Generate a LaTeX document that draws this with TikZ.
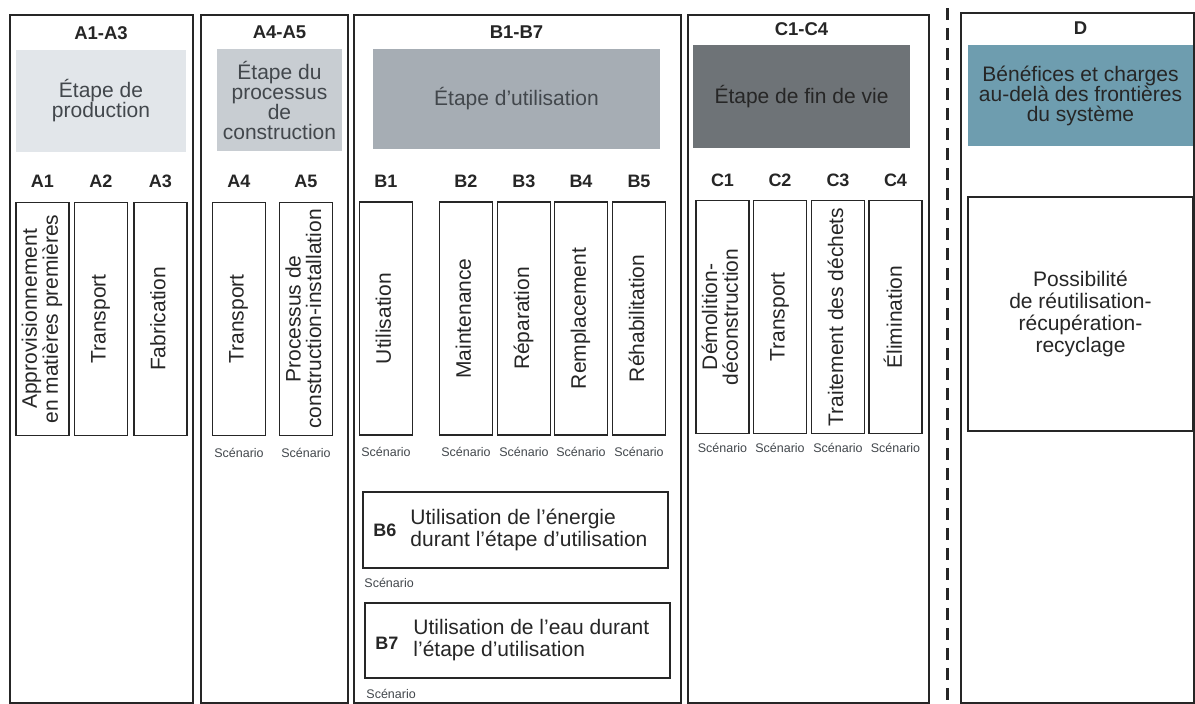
\documentclass[tikz,border=0pt]{standalone}
\usepackage{fontspec}
\setmainfont{Liberation Sans}
\usepackage{graphicx}
\usetikzlibrary{positioning}

\definecolor{stageA}{HTML}{E2E6EA}
\definecolor{stageAB}{HTML}{C8CDD2}
\definecolor{stageB}{HTML}{A6ADB4}
\definecolor{stageC}{HTML}{6E7377}
\definecolor{stageD}{HTML}{6E9DAF}
\definecolor{ink}{HTML}{262626}
\definecolor{inkgrey}{HTML}{42474C}

\newcommand{\vtext}[1]{\rotatebox{90}{\begin{tabular}{@{}c@{}}#1\end{tabular}}}

\begin{document}
\begin{tikzpicture}[x=1pt, y=-1pt, line join=miter,
  frame/.style={draw=ink, line width=2pt, anchor=north west, inner sep=0pt},
  stage/.style={fill=stageA, text=inkgrey, align=center, inner sep=0pt, font=\fontsize{21}{20}\selectfont},
  every node/.style={text=ink}]
% Define styles for boxes and labels
\tikzstyle{head} = [font=\fontsize{18.5}{20}\selectfont\bfseries, inner sep=0pt]
\tikzstyle{sublab} = [font=\fontsize{18}{20}\selectfont\bfseries, inner sep=0pt]
\tikzstyle{vbox} = [draw=ink, line width=1.5pt, minimum width=53pt, minimum height=233pt, inner sep=0pt, font=\fontsize{21}{18}\selectfont]
\tikzstyle{hbox} = [draw=ink, line width=1.5pt, inner sep=0pt, align=center, font=\fontsize{21}{22}\selectfont]
\tikzstyle{scen} = [font=\fontsize{12.5}{14}\selectfont, text=inkgrey, inner sep=0pt]

\useasboundingbox (0,0) rectangle (1195,704);
\fill[white] (0,0) rectangle (1195,704);

% Column frames
\node [frame, minimum width=183pt, minimum height=688pt] (colA) at (9,14) {};
\node [frame, minimum width=147pt, minimum height=688pt] (colAB) at (200,14) {};
\node [frame, minimum width=327pt, minimum height=688pt] (colB) at (353,14) {};
\node [frame, minimum width=241pt, minimum height=688pt] (colC) at (687,14) {};
\node [frame, minimum width=233pt, minimum height=690pt] (colD) at (960,12) {};

% Stage boxes and headers
\node [stage, minimum width=170pt, minimum height=102pt] (stA) at (101,101) {Étape de\\production};
\node [stage, fill=stageAB, minimum width=125pt, minimum height=102pt] (stAB) at (279.5,100) {Étape du\\processus\\de\\construction};
\node [stage, fill=stageB, minimum width=287pt, minimum height=100pt] (stB) at (516.5,99) {Étape d’utilisation};
\node [stage, fill=stageC, text=ink, minimum width=217pt, minimum height=103pt] (stC) at (801.5,96.5) {Étape de fin de vie};
\node [stage, fill=stageD, text=ink, minimum width=225pt, minimum height=101pt] (stD) at (1080.5,95.5) {Bénéfices et charges\\au-delà des frontières\\du système};

\node [head] (hdA) at ([yshift=17pt]stA.north) {A1-A3};
\node [head] (hdAB) at ([yshift=17pt]stAB.north) {A4-A5};
\node [head] (hdB) at ([yshift=17pt]stB.north) {B1-B7};
\node [head] (hdC) at ([yshift=16pt]stC.north) {C1-C4};
\node [head] (hdD) at ([yshift=17pt]stD.north) {D};

% Production stage
\node [vbox] (a1) at (42.5,319) {\vtext{Approvisionnement\\en matières premières}};
\node [vbox, right of=a1, node distance=58.5pt] (a2) {\vtext{Transport}};
\node [vbox, right of=a2, node distance=59.5pt] (a3) {\vtext{Fabrication}};

% Construction process stage
\node [vbox] (a4) at (239,319) {\vtext{Transport}};
\node [vbox, right of=a4, node distance=67pt] (a5) {\vtext{Processus de\\construction-installation}};

% Use stage
\node [vbox] (b1) at (386,318.5) {\vtext{Utilisation}};
\node [vbox, right of=b1, node distance=80pt] (b2) {\vtext{Maintenance}};
\node [vbox, right of=b2, node distance=58pt] (b3) {\vtext{Réparation}};
\node [vbox, right of=b3, node distance=57pt] (b4) {\vtext{Remplacement}};
\node [vbox, right of=b4, node distance=58pt] (b5) {\vtext{Réhabilitation}};

% End of life stage
\node [vbox] (c1) at (722.5,317) {\vtext{Démolition-\\déconstruction}};
\node [vbox, right of=c1, node distance=57.5pt] (c2) {\vtext{Transport}};
\node [vbox, right of=c2, node distance=58pt] (c3) {\vtext{Traitement des déchets}};
\node [vbox, right of=c3, node distance=57.5pt] (c4) {\vtext{Élimination}};

% Module labels
\node [sublab, above of=a1, node distance=137.5pt] (a1l) {A1};
\node [sublab, above of=a2, node distance=137.5pt] (a2l) {A2};
\node [sublab, above of=a3, node distance=137.5pt] (a3l) {A3};
\node [sublab, above of=a4, node distance=137.5pt] (a4l) {A4};
\node [sublab, above of=a5, node distance=137.5pt] (a5l) {A5};
\node [sublab, above of=b1, node distance=137.5pt] (b1l) {B1};
\node [sublab, above of=b2, node distance=137.5pt] (b2l) {B2};
\node [sublab, above of=b3, node distance=137.5pt] (b3l) {B3};
\node [sublab, above of=b4, node distance=137.5pt] (b4l) {B4};
\node [sublab, above of=b5, node distance=137.5pt] (b5l) {B5};
\node [sublab, above of=c1, node distance=137pt] (c1l) {C1};
\node [sublab, above of=c2, node distance=137pt] (c2l) {C2};
\node [sublab, above of=c3, node distance=137pt] (c3l) {C3};
\node [sublab, above of=c4, node distance=137pt] (c4l) {C4};

% Scenario notes
\node [scen, below of=a4, node distance=134pt] (a4s) {Scénario};
\node [scen, below of=a5, node distance=134pt] (a5s) {Scénario};
\node [scen, below of=b1, node distance=133.5pt] (b1s) {Scénario};
\node [scen, below of=b2, node distance=133.5pt] (b2s) {Scénario};
\node [scen, below of=b3, node distance=133.5pt] (b3s) {Scénario};
\node [scen, below of=b4, node distance=133.5pt] (b4s) {Scénario};
\node [scen, below of=b5, node distance=133.5pt] (b5s) {Scénario};
\node [scen, below of=c1, node distance=131pt] (c1s) {Scénario};
\node [scen, below of=c2, node distance=131pt] (c2s) {Scénario};
\node [scen, below of=c3, node distance=131pt] (c3s) {Scénario};
\node [scen, below of=c4, node distance=131pt] (c4s) {Scénario};

% Operational energy and water
\node [hbox, minimum width=305pt, minimum height=76pt] (b6) at (515.5,530) {};
\node [sublab, anchor=west] (b6l) at ([xshift=11pt]b6.west) {B6};
\node [anchor=west, align=left, inner sep=0pt, font=\fontsize{21}{22}\selectfont] (b6t) at ([xshift=48pt]b6.west) {Utilisation de l’énergie\\durant l’étape d’utilisation};
\node [scen, anchor=north west] (b6s) at ([xshift=2pt,yshift=-9pt]b6.south west) {Scénario};

\node [hbox, minimum width=305pt, minimum height=75pt] (b7) at (517.5,640.5) {};
\node [sublab, anchor=west] (b7l) at ([xshift=11pt,yshift=-3pt]b7.west) {B7};
\node [anchor=west, align=left, inner sep=0pt, font=\fontsize{21}{22}\selectfont] (b7t) at ([xshift=49pt]b7.west) {Utilisation de l’eau durant\\l’étape d’utilisation};
\node [scen, anchor=north west] (b7s) at ([xshift=2pt,yshift=-10pt]b7.south west) {Scénario};

% Beyond the system boundary
\node [hbox, minimum width=225pt, minimum height=234pt] (dbox) at (1080.5,314) {Possibilité\\de réutilisation-\\récupération-\\recyclage};

% System boundary
\coordinate (sepTop) at (947,8);
\coordinate (sepBot) at (947,704);
\draw [ink, line width=3pt, dash pattern=on 12pt off 8pt] (sepTop) -- (sepBot);
\end{tikzpicture}
\end{document}
